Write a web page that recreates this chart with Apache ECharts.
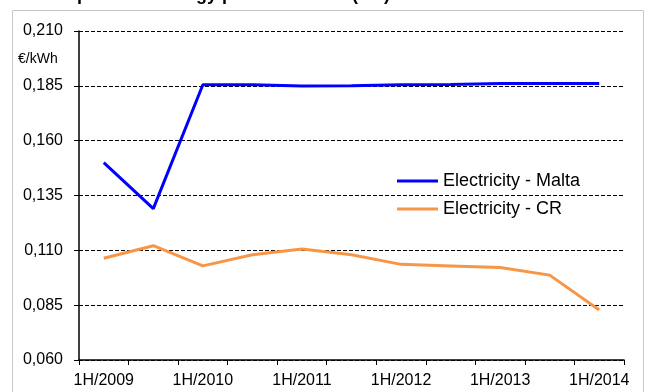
<!DOCTYPE html>
<html>
<head>
<meta charset="utf-8">
<script src="https://cdn.jsdelivr.net/npm/echarts@6/dist/echarts.min.js"></script>
<style>
  html, body { margin: 0; padding: 0; background: #fff; }
  #chart { width: 648px; height: 392px; }
</style>
</head>
<body>
<div id="chart"></div>
<script>
// Half-year periods on the category axis
var periods = ['1H/2009', '2H/2009', '1H/2010', '2H/2010', '1H/2011', '2H/2011',
               '1H/2012', '2H/2012', '1H/2013', '2H/2013', '1H/2014'];

// Electricity prices, EUR per kWh
var electricityMalta = [0.1500, 0.1290, 0.1855, 0.1855, 0.1849, 0.1850,
                        0.1855, 0.1856, 0.1861, 0.1861, 0.1861];
var electricityCR    = [0.1064, 0.1121, 0.1029, 0.1080, 0.1106, 0.1080,
                        0.1036, 0.1029, 0.1022, 0.0987, 0.0828];

var seriesNames = ['Electricity - Malta', 'Electricity - CR'];
var yMin = 0.060, yMax = 0.210, yStep = 0.025;

var FONT = 'Arial, "Liberation Sans", sans-serif';

var chart = echarts.init(document.getElementById('chart'), null, { renderer: 'canvas' });

chart.setOption({
  animation: false,
  backgroundColor: '#ffffff',
  graphic: [
    {
      type: 'rect',
      silent: true,
      shape: { x: 12.5, y: 10.5, width: 631, height: 400 },
      style: { fill: 'none', stroke: '#c8c8c8', lineWidth: 1 }
    },
    {
      type: 'text',
      left: 18, top: -14,
      style: {
        text: 'Development of energy prices in Malta (CR)',
        font: 'bold 18px ' + FONT,
        fill: '#000'
      }
    },
    {
      type: 'text',
      left: 18, top: 52,
      style: { text: '€/kWh', font: '14px ' + FONT, fill: '#000' }
    }
  ],
  grid: { left: 79, right: 24, top: 31, bottom: 32, containLabel: false },
  legend: {
    orient: 'vertical',
    left: 392, top: 167,
    itemWidth: 41, itemHeight: 3, itemGap: 10,
    icon: 'rect',
    textStyle: { fontFamily: FONT, fontSize: 18, color: '#000', padding: [0, 0, 0, 0] },
    data: seriesNames
  },
  xAxis: {
    type: 'category',
    data: periods,
    boundaryGap: true,
    axisLine: { lineStyle: { color: '#000', width: 1.5 } },
    axisTick: { show: true, interval: 0, length: 5, lineStyle: { color: '#000' } },
    axisLabel: {
      interval: 1, margin: 13,
      fontFamily: FONT, fontSize: 16, color: '#000'
    },
    splitLine: { show: false }
  },
  yAxis: {
    type: 'value',
    min: yMin, max: yMax, interval: yStep,
    axisLine: { show: true, lineStyle: { color: '#000', width: 1.5 } },
    axisTick: { show: true, length: 5, lineStyle: { color: '#000' } },
    axisLabel: {
      margin: 16,
      fontFamily: FONT, fontSize: 16, color: '#000',
      formatter: function (v) { return v.toFixed(3).replace('.', ','); }
    },
    splitLine: { show: true, lineStyle: { color: '#000', type: [4, 2], width: 1 } }
  },
  series: [
    {
      name: seriesNames[0],
      type: 'line',
      data: electricityMalta,
      showSymbol: false,
      symbol: 'none',
      itemStyle: { color: '#0000ff' },
      lineStyle: { color: '#0000ff', width: 3 }
    },
    {
      name: seriesNames[1],
      type: 'line',
      data: electricityCR,
      showSymbol: false,
      symbol: 'none',
      itemStyle: { color: '#f79646' },
      lineStyle: { color: '#f79646', width: 3 }
    }
  ]
});
</script>
</body>
</html>
